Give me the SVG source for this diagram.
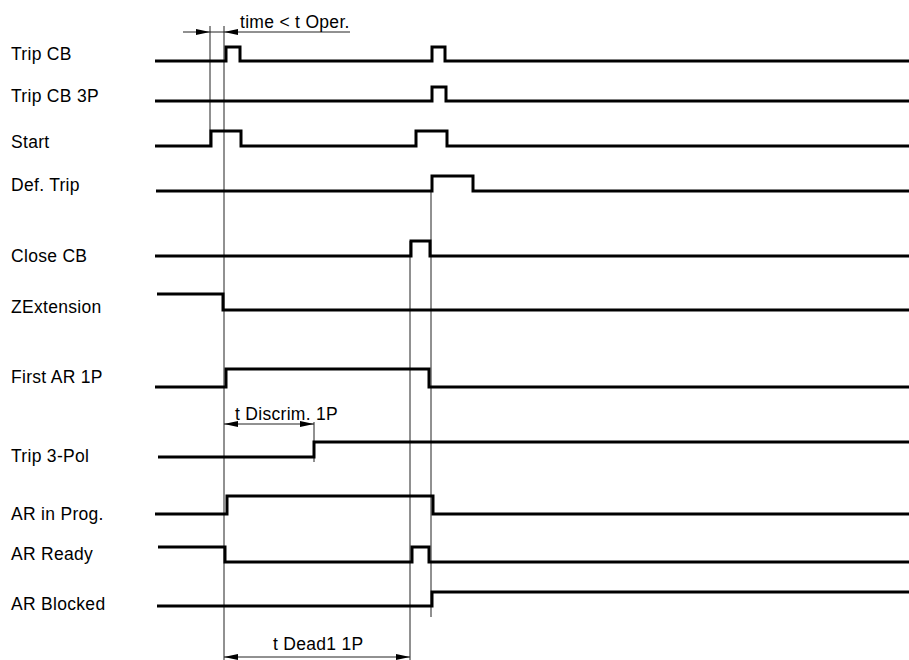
<svg xmlns="http://www.w3.org/2000/svg" width="909" height="660" viewBox="0 0 909 660">
<style>
  text { font-family: "Liberation Sans", Arial, sans-serif; font-size: 17.5px; letter-spacing: 0.3px; fill: #000; }
  .sig { fill: none; stroke: #000; stroke-width: 3; stroke-linejoin: miter; stroke-linecap: butt; }
  .thin { fill: none; stroke: #222; stroke-width: 1; }
</style>
<defs>
  <marker id="arr" viewBox="0 0 14 6" refX="14" refY="3" markerWidth="14" markerHeight="6" markerUnits="userSpaceOnUse" orient="auto-start-reverse">
    <path d="M0,0 L14,3 L0,6 z" fill="#000"/>
  </marker>
</defs>
<rect width="909" height="660" fill="#fff"/>

<g id="connectors">
  <path class="thin" d="M210,26 V147"/>
  <path class="thin" d="M224,26 V660"/>
  <path class="thin" d="M410,241 V660"/>
  <path class="thin" d="M431,191 V617"/>
  <path class="thin" d="M314,422 V462"/>
  <path class="thin" d="M183,32 H210" marker-end="url(#arr)"/>
  <path class="thin" d="M350,32 H224" marker-end="url(#arr)"/>
  <path class="thin" d="M210,32 H224"/>
  <text x="240" y="28">time &lt; t Oper.</text>
  <path class="thin" d="M224,424 H314" marker-start="url(#arr)" marker-end="url(#arr)"/>
  <text x="235" y="420">t Discrim. 1P</text>
  <path class="thin" d="M224,657 H410" marker-start="url(#arr)" marker-end="url(#arr)"/>
  <text x="273" y="650">t Dead1 1P</text>
</g>

<g id="trip-cb">
  <text x="11" y="60">Trip CB</text>
  <path class="sig" d="M155,61 H226 V47 H240 V61 H432 V47 H445 V61 H909"/>
</g>
<g id="trip-cb-3p">
  <text x="11" y="102">Trip CB 3P</text>
  <path class="sig" d="M155,101 H432 V87 H446 V101 H909"/>
</g>
<g id="start">
  <text x="11" y="148">Start</text>
  <path class="sig" d="M155,146 H211 V131 H241 V146 H416 V131 H447 V146 H909"/>
</g>
<g id="def-trip">
  <text x="11" y="191">Def. Trip</text>
  <path class="sig" d="M156,191 H432 V176 H473 V191 H909"/>
</g>
<g id="close-cb">
  <text x="11" y="262">Close CB</text>
  <path class="sig" d="M155,256 H411 V241 H430 V256 H909"/>
</g>
<g id="zextension">
  <text x="11" y="313">ZExtension</text>
  <path class="sig" d="M157,294 H223 V310 H909"/>
</g>
<g id="first-ar-1p">
  <text x="11" y="383">First AR 1P</text>
  <path class="sig" d="M155,387 H226 V369 H429 V387 H909"/>
</g>
<g id="trip-3-pol">
  <text x="11" y="462">Trip 3-Pol</text>
  <path class="sig" d="M158,457 H314 V442 H909"/>
</g>
<g id="ar-in-prog">
  <text x="11" y="520">AR in Prog.</text>
  <path class="sig" d="M155,514 H227 V496 H433 V514 H909"/>
</g>
<g id="ar-ready">
  <text x="11" y="560">AR Ready</text>
  <path class="sig" d="M158,547 H225 V562 H412 V547 H429 V562 H909"/>
</g>
<g id="ar-blocked">
  <text x="11" y="610">AR Blocked</text>
  <path class="sig" d="M157,606 H432 V592 H909"/>
</g>
</svg>
